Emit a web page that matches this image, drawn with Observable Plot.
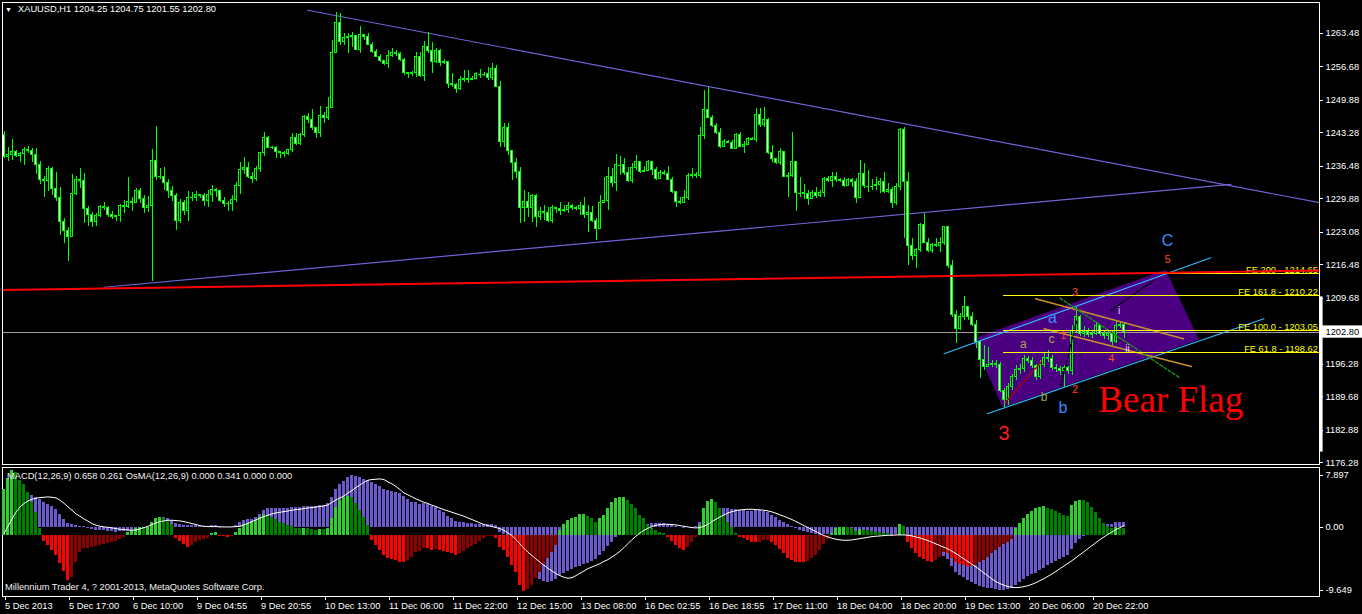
<!DOCTYPE html>
<html><head><meta charset="utf-8">
<script src="https://cdn.jsdelivr.net/npm/d3@7"></script>
<script src="https://cdn.jsdelivr.net/npm/@observablehq/plot@0.6"></script>
<style>
html,body{margin:0;padding:0;background:#000;}
#wrap{position:relative;width:1362px;height:614px;background:#000;overflow:hidden;font-family:"Liberation Sans",Arial,sans-serif;}
#wrap svg{position:absolute;left:0;}
.t{position:absolute;color:#fff;font-size:9.3px;white-space:nowrap;line-height:1;font-family:"Liberation Sans",Arial,sans-serif;}
</style></head><body><div id="wrap"></div>
<script>
// ---------------- DATA ----------------
const symbolHeader = "XAUUSD,H1  1204.25 1204.75 1201.55 1202.80";
const macdHeader = "MACD(12,26,9) 0.658 0.261  OsMA(12,26,9) 0.000 0.341 0.000 0.000";
const footer = "Millennium Trader 4, ? 2001-2013, MetaQuotes Software Corp.";
const firstOpen = 1242.8;
const close = [
1238.3,1238.7,1239.3,1238.5,1238.9,1239.9,1239.5,1238.7,1236.7,1233.8,
1233.6,1236.0,1231.8,1230.1,1225.1,1223.4,1222.2,1230.8,1233.8,1233.6,
1227.9,1226.5,1225.1,1226.3,1228.3,1228.1,1226.5,1226.1,1226.3,1228.5,
1228.3,1229.3,1229.1,1231.4,1229.9,1228.1,1228.5,1237.5,1234.4,1234.4,
1233.0,1231.4,1230.4,1225.3,1229.1,1227.5,1230.1,1230.1,1230.6,1230.4,
1229.5,1230.6,1231.6,1231.4,1229.5,1228.9,1228.9,1229.7,1232.4,1235.8,
1236.2,1234.4,1234.0,1236.0,1239.1,1242.3,1240.3,1240.3,1239.3,1239.1,
1238.9,1239.7,1242.3,1241.1,1242.8,1246.6,1245.8,1244.2,1243.2,1246.8,
1246.4,1248.4,1259.6,1265.7,1261.7,1262.5,1262.7,1262.9,1260.2,1263.1,
1262.7,1261.2,1259.8,1258.8,1257.8,1257.2,1259.0,1259.6,1259.4,1258.0,
1255.4,1255.2,1255.4,1258.8,1254.9,1260.8,1260.0,1257.6,1260.0,1257.4,
1257.6,1253.3,1253.1,1252.1,1254.1,1254.3,1254.1,1254.3,1255.2,1255.2,
1255.2,1254.5,1256.2,1252.7,1241.5,1244.2,1239.5,1237.1,1235.4,1228.1,
1229.3,1228.1,1230.4,1226.1,1227.1,1226.9,1225.3,1228.1,1227.9,1227.5,
1227.7,1228.5,1228.1,1227.9,1228.5,1226.5,1226.9,1225.3,1223.8,1229.1,
1229.5,1234.4,1233.0,1236.7,1236.7,1235.2,1233.4,1236.2,1237.3,1235.4,
1235.6,1237.3,1235.8,1234.0,1235.2,1235.0,1233.8,1231.2,1229.3,1229.1,
1230.1,1234.6,1234.8,1234.6,1242.6,1248.0,1246.4,1244.6,1243.2,1240.5,
1241.5,1241.3,1240.1,1242.8,1240.5,1240.9,1242.1,1241.9,1247.0,1244.8,
1246.0,1239.1,1237.9,1237.1,1239.3,1234.4,1234.6,1237.3,1231.0,1231.0,
1230.8,1229.9,1231.0,1230.4,1231.0,1234.0,1233.6,1234.4,1233.8,1233.6,
1232.4,1233.8,1233.2,1230.1,1235.0,1232.4,1232.4,1232.4,1232.6,1233.2,
1231.2,1231.6,1229.1,1232.2,1243.8,1233.2,1220.2,1218.2,1219.4,1224.5,
1221.0,1219.2,1220.4,1220.2,1221.0,1224.1,1216.3,1206.2,1203.5,1205.8,
1207.8,1205.8,1204.3,1200.7,1197.2,1195.6,1196.2,1196.4,1196.2,1190.9,
1188.9,1191.7,1193.6,1195.0,1195.2,1197.4,1197.0,1195.8,1193.6,1196.2,
1197.6,1197.4,1195.4,1195.2,1194.8,1195.4,1194.8,1203.1,1205.8,1202.5,
1202.9,1202.3,1202.5,1204.1,1202.5,1201.9,1202.5,1200.7,1204.1,1204.25,
1202.80];
const high = [
1243.6,1240.3,1241.9,1239.7,1239.3,1240.3,1240.5,1240.1,1240.1,1237.5,
1234.4,1236.4,1236.2,1235.2,1232.2,1225.9,1224.1,1234.8,1234.4,1236.0,
1235.0,1228.3,1227.1,1226.9,1228.5,1229.1,1228.3,1227.3,1226.5,1228.7,
1229.5,1234.2,1230.1,1232.0,1232.0,1230.6,1230.4,1239.9,1244.6,1236.0,
1236.2,1233.8,1232.4,1231.0,1229.7,1229.5,1231.4,1231.2,1231.4,1230.8,
1231.0,1231.6,1232.6,1232.0,1231.4,1230.1,1229.3,1230.6,1233.2,1237.3,
1238.3,1237.3,1235.2,1236.4,1239.3,1243.4,1242.6,1240.5,1240.5,1239.5,
1239.5,1239.9,1243.2,1243.2,1243.2,1246.8,1247.2,1248.0,1244.4,1248.6,
1247.4,1250.5,1262.1,1267.8,1267.5,1263.5,1263.5,1263.7,1262.9,1264.9,
1263.3,1263.5,1261.6,1260.2,1259.2,1258.0,1260.0,1260.4,1260.0,1259.6,
1258.4,1255.6,1255.8,1259.6,1259.6,1261.9,1263.7,1261.6,1260.4,1260.2,
1258.2,1257.6,1255.4,1253.3,1254.7,1256.0,1256.0,1254.7,1255.6,1256.2,
1255.6,1256.6,1257.4,1257.0,1253.7,1245.2,1245.2,1239.7,1238.1,1236.2,
1231.6,1231.2,1230.8,1230.8,1228.1,1228.5,1228.1,1228.5,1228.1,1229.1,
1228.5,1229.1,1228.7,1228.3,1229.1,1230.1,1228.5,1228.3,1225.9,1230.6,
1234.2,1236.2,1236.0,1238.9,1238.5,1238.1,1236.2,1237.1,1238.7,1237.1,
1236.4,1237.7,1237.3,1236.2,1235.6,1235.6,1236.4,1234.2,1231.2,1230.1,
1231.6,1235.0,1236.0,1235.2,1244.4,1251.9,1252.5,1246.8,1245.2,1244.2,
1241.9,1241.7,1241.7,1243.2,1243.4,1241.5,1242.3,1242.3,1248.2,1248.2,
1248.4,1246.2,1240.7,1238.1,1240.1,1239.5,1235.2,1243.4,1237.3,1234.2,
1232.8,1231.6,1231.6,1232.2,1231.6,1234.3,1234.4,1235.2,1235.2,1234.0,
1234.2,1234.0,1234.0,1234.0,1237.7,1237.1,1235.6,1233.8,1234.2,1234.0,
1235.2,1233.0,1232.2,1233.0,1244.2,1244.4,1235.2,1221.8,1219.8,1224.9,
1226.9,1221.8,1220.8,1221.8,1222.0,1224.3,1224.1,1217.3,1207.2,1206.6,
1210.0,1208.0,1206.8,1205.2,1201.1,1200.1,1199.7,1197.0,1197.0,1196.6,
1191.3,1192.3,1194.2,1196.0,1196.2,1198.0,1197.8,1197.6,1196.2,1197.0,
1198.6,1199.1,1198.0,1196.2,1195.8,1196.0,1195.8,1204.1,1207.8,1206.2,
1203.9,1203.5,1203.1,1204.8,1204.1,1203.1,1203.1,1203.1,1204.9,1205.0,
1204.75];
const low = [
1238.1,1237.5,1237.7,1238.3,1237.3,1236.7,1239.1,1237.3,1234.8,1232.8,
1230.1,1231.4,1230.6,1229.3,1222.4,1220.8,1217.1,1222.0,1230.6,1232.0,
1224.9,1224.3,1224.1,1224.3,1226.1,1227.5,1226.1,1225.7,1225.3,1225.1,
1226.9,1227.9,1227.3,1228.9,1228.9,1226.9,1227.1,1213.1,1233.6,1233.8,
1231.6,1229.9,1229.3,1223.4,1224.9,1226.5,1225.3,1229.3,1229.3,1229.9,
1228.3,1228.1,1229.1,1230.1,1229.1,1228.1,1227.3,1227.3,1229.1,1230.8,
1234.8,1234.0,1233.0,1233.4,1235.2,1238.5,1240.1,1239.9,1238.1,1238.1,
1238.3,1238.7,1239.3,1240.7,1240.7,1242.3,1245.2,1243.8,1242.1,1242.3,
1245.2,1245.8,1248.2,1259.6,1261.0,1261.0,1259.4,1260.6,1260.0,1259.4,
1262.1,1261.0,1259.4,1258.6,1257.6,1257.0,1256.4,1258.6,1258.8,1257.8,
1254.9,1254.3,1254.7,1254.5,1254.5,1253.7,1259.4,1255.4,1257.4,1256.8,
1257.2,1252.3,1252.5,1251.3,1251.9,1253.5,1253.3,1253.9,1254.3,1254.3,
1254.7,1253.9,1253.9,1252.5,1240.3,1240.3,1238.7,1233.6,1234.0,1224.9,
1225.1,1226.1,1225.1,1224.1,1225.5,1225.5,1225.1,1224.9,1226.9,1226.5,
1227.1,1226.9,1227.5,1227.5,1226.5,1225.9,1223.0,1225.1,1221.4,1223.8,
1228.9,1227.5,1232.2,1231.4,1234.6,1234.6,1233.2,1233.0,1235.6,1235.0,
1235.2,1235.6,1234.6,1233.6,1233.8,1234.6,1233.6,1230.9,1228.1,1228.7,
1228.9,1229.5,1234.0,1234.0,1234.0,1241.9,1246.2,1244.4,1243.0,1240.1,
1240.3,1241.1,1239.9,1240.1,1240.3,1239.1,1240.9,1241.7,1241.3,1244.4,
1244.4,1238.9,1237.3,1236.9,1236.7,1234.2,1230.1,1234.2,1227.3,1230.1,
1229.7,1228.5,1229.9,1229.9,1230.1,1230.1,1233.2,1232.2,1233.2,1233.2,
1232.2,1232.4,1232.2,1228.9,1229.9,1232.0,1231.2,1231.6,1231.6,1231.0,
1231.0,1231.0,1227.9,1228.5,1231.6,1221.8,1216.3,1217.4,1215.7,1219.0,
1220.8,1219.0,1218.8,1220.0,1219.0,1220.4,1215.7,1205.8,1200.5,1203.1,
1205.2,1205.2,1203.9,1199.5,1193.4,1195.0,1195.8,1195.6,1195.4,1190.5,
1187.5,1187.9,1190.9,1193.0,1194.2,1194.6,1196.4,1195.4,1193.0,1193.2,
1195.6,1196.6,1195.0,1194.6,1194.0,1191.5,1194.2,1194.0,1202.7,1201.9,
1201.7,1201.7,1201.5,1202.1,1201.9,1201.3,1201.1,1200.1,1200.5,1203.6,
1201.55];
const macd = [
1.2,2.3,3.2,4.0,4.6,5.2,5.2,4.9,4.5,4.22,
3.82,3.46,3.21,2.70,1.93,1.17,0.56,0.36,0.25,0.15,
0.05,-0.15,-0.36,-0.46,-0.51,-0.51,-0.61,-0.71,-0.76,-0.66,
-0.66,-0.61,-0.51,-0.36,-0.25,-0.36,-0.36,0.66,1.27,1.42,
1.42,1.32,1.07,0.56,0.41,0.31,0.25,0.25,0.20,0.15,
0.10,0.15,0.20,0.20,0.10,0.00,-0.05,0.00,0.25,0.66,
1.07,1.17,1.17,1.42,1.93,2.60,2.80,2.85,2.85,2.90,
2.90,2.90,3.00,3.00,3.05,3.21,3.21,3.16,3.10,3.31,
3.36,3.61,4.48,5.75,6.51,7.02,7.60,7.897,7.70,7.55,
7.28,7.12,6.87,6.51,6.16,5.75,5.65,5.50,5.34,5.14,
4.63,4.22,3.82,3.82,3.46,3.61,3.46,3.10,2.95,2.60,
2.29,1.68,1.27,0.87,0.76,0.66,0.56,0.51,0.46,0.46,
0.46,0.41,0.46,0.25,-0.76,-1.12,-1.88,-2.80,-3.51,-4.94,
-5.70,-6.36,-6.97,-7.58,-7.99,-8.24,-8.40,-8.30,-8.00,-7.30,
-7.00,-6.70,-6.46,-6.21,-5.95,-5.75,-5.55,-5.19,-4.94,-4.33,
-3.66,-2.90,-2.29,-1.63,-1.12,-0.76,-0.56,-0.36,-0.10,0.15,
0.31,0.41,0.56,0.56,0.56,0.51,0.46,0.36,0.15,-0.05,
-0.15,-0.05,0.00,0.05,0.76,1.68,2.19,2.44,2.54,2.80,
2.85,2.80,2.70,2.65,2.60,2.49,2.44,2.44,2.54,2.49,
2.44,2.19,1.78,1.42,1.07,0.66,0.36,0.15,-0.15,-0.46,
-0.66,-0.87,-1.02,-1.17,-1.27,-1.17,-1.12,-0.97,-0.87,-0.87,
-0.87,-0.87,-0.92,-1.02,-0.87,-0.92,-0.97,-1.02,-1.07,-1.12,
-1.17,-1.17,-1.27,-1.17,-0.36,-0.61,-1.63,-2.49,-3.16,-3.41,
-3.72,-4.02,-4.22,-4.43,-4.53,-4.43,-4.94,-5.95,-6.87,-7.38,
-7.74,-8.09,-8.40,-8.75,-9.01,-9.26,-9.31,-9.41,-9.52,-9.60,
-9.649,-9.55,-9.31,-8.91,-8.50,-7.99,-7.58,-7.28,-7.07,-6.67,
-6.26,-5.85,-5.55,-5.24,-4.94,-4.63,-4.33,-3.41,-2.49,-1.88,
-1.37,-0.87,-0.46,-0.05,0.15,0.36,0.41,0.46,0.66,0.71,
0.658];
const signal = [
-0.97,0.15,1.27,2.29,3.10,3.61,4.02,4.27,4.43,4.53,
4.58,4.63,4.58,4.48,4.12,3.66,3.10,2.60,2.04,1.68,
1.27,0.92,0.56,0.31,0.15,0.05,0.00,-0.10,-0.20,-0.31,
-0.36,-0.41,-0.46,-0.41,-0.25,-0.05,0.15,0.41,0.66,0.87,
0.97,1.07,1.07,1.02,0.97,0.87,0.71,0.56,0.41,0.25,
0.15,0.10,0.10,0.10,0.05,0.05,0.05,0.05,0.10,0.15,
0.36,0.61,0.87,1.12,1.42,1.63,1.83,2.04,2.19,2.29,
2.39,2.49,2.60,2.70,2.75,2.85,2.95,3.00,3.10,3.16,
3.26,3.41,3.82,4.17,4.48,4.78,5.24,5.60,6.06,6.46,
6.87,7.18,7.28,7.33,7.38,7.28,6.92,6.62,6.21,5.75,
5.24,4.94,4.63,4.33,4.07,3.82,3.61,3.36,3.16,2.90,
2.70,2.49,2.29,2.09,1.88,1.68,1.42,1.17,0.92,0.66,
0.41,0.25,0.10,-0.05,-0.20,-0.46,-0.87,-1.27,-1.88,-2.54,
-3.21,-3.82,-4.33,-4.83,-5.34,-5.80,-6.26,-6.67,-7.07,-7.38,
-7.63,-7.79,-7.68,-7.38,-7.02,-6.67,-6.31,-6.06,-5.80,-5.55,
-5.19,-4.94,-4.53,-4.12,-3.66,-3.10,-2.49,-1.88,-1.37,-0.87,
-0.46,-0.15,0.10,0.31,0.41,0.46,0.46,0.41,0.36,0.25,
0.15,0.05,-0.05,-0.10,-0.05,0.15,0.46,0.87,1.22,1.58,
1.88,2.19,2.39,2.54,2.65,2.70,2.75,2.75,2.70,2.65,
2.60,2.49,2.34,2.14,1.88,1.68,1.42,1.17,0.87,0.56,
0.25,-0.05,-0.36,-0.66,-0.97,-1.27,-1.48,-1.68,-1.83,-1.93,
-1.98,-1.98,-1.93,-1.83,-1.73,-1.63,-1.53,-1.42,-1.37,-1.32,
-1.27,-1.22,-1.22,-1.17,-1.17,-1.17,-1.22,-1.32,-1.48,-1.63,
-1.83,-2.04,-2.29,-2.54,-2.80,-3.05,-3.31,-3.66,-4.02,-4.43,
-4.83,-5.24,-5.65,-6.06,-6.51,-6.97,-7.43,-7.89,-8.30,-8.60,
-8.85,-9.06,-9.16,-9.21,-9.16,-9.06,-8.91,-8.70,-8.45,-8.14,
-7.84,-7.48,-7.12,-6.72,-6.31,-5.90,-5.50,-5.09,-4.63,-4.17,
-3.72,-3.26,-2.80,-2.34,-1.88,-1.48,-1.07,-0.71,-0.35,-0.05,
0.261];
const osma = [
2.35,2.89,3.32,3.20,2.81,2.59,2.21,1.70,1.19,0.34,
-0.31,-0.51,-0.77,-1.02,-1.45,-1.84,-2.30,-2.13,-1.36,-0.88,
-0.68,-0.65,-0.60,-0.54,-0.51,-0.48,-0.43,-0.37,-0.31,-0.20,
-0.09,0.17,0.26,0.37,0.43,0.37,0.43,0.68,0.85,0.90,
0.88,0.77,0.54,-0.14,-0.31,-0.48,-0.60,-0.51,-0.37,-0.27,
-0.20,-0.14,0.12,0.14,-0.05,-0.07,-0.10,-0.03,0.17,0.34,
0.54,0.60,0.65,0.77,0.94,1.05,1.02,0.92,0.82,0.68,
0.60,0.51,0.44,0.37,0.34,0.37,0.34,0.29,0.26,0.31,
0.29,0.37,0.85,1.45,1.79,1.96,2.01,1.96,1.62,1.28,
0.94,0.51,-0.26,-0.51,-0.77,-1.02,-1.16,-1.22,-1.29,-1.36,
-1.36,-1.28,-1.12,-0.88,-0.82,-0.65,-0.68,-0.75,-0.71,-0.77,
-0.82,-0.88,-0.94,-1.02,-0.94,-0.82,-0.68,-0.54,-0.44,-0.31,
-0.17,-0.07,-0.03,-0.14,-0.60,-0.77,-1.11,-1.53,-1.87,-2.55,
-2.86,-2.76,-2.55,-2.21,-1.87,-1.50,-1.19,-0.88,-0.51,0.26,
0.54,0.77,0.85,0.94,1.05,1.05,0.99,0.88,0.68,0.85,
1.02,1.36,1.70,1.87,1.92,1.94,1.79,1.56,1.36,1.02,
0.85,0.51,0.34,0.26,0.17,0.09,-0.09,-0.31,-0.51,-0.68,
-0.77,-0.60,-0.34,-0.09,0.51,1.36,1.73,1.82,1.67,1.36,
1.02,0.68,0.43,0.12,-0.09,-0.17,-0.27,-0.34,-0.37,-0.34,
-0.27,-0.26,-0.34,-0.51,-0.71,-0.94,-1.16,-1.28,-1.36,-1.39,
-1.39,-1.33,-1.19,-1.02,-0.77,-0.48,-0.20,0.12,0.34,0.41,
0.43,0.41,0.34,0.20,0.31,0.27,0.24,0.20,0.17,0.14,
0.10,0.09,-0.07,-0.03,0.54,0.46,-0.37,-0.68,-0.94,-1.11,
-1.22,-1.33,-1.36,-1.28,-1.11,-0.88,-0.94,-1.19,-1.39,-1.50,
-1.53,-1.56,-1.58,-1.53,-1.39,-1.28,-1.11,-0.94,-0.77,-0.60,
-0.48,-0.34,-0.20,0.37,0.60,0.85,1.05,1.22,1.36,1.43,
1.46,1.39,1.33,1.22,1.11,1.02,0.99,1.53,1.73,1.80,
1.79,1.67,1.45,1.19,0.85,0.60,0.46,0.37,0.41,0.37,
0.341];
const priceTicks = [1263.48,1256.68,1249.88,1243.28,1236.48,1229.88,1223.08,1216.48,1209.68,1196.28,1189.68,1182.88,1176.28];
const currentPrice = 1202.80;
const macdTicks = [7.897, 0, -9.649];
const macdTickLabels = ["7.897", "0.00", "-9.649"];
const dateTickIdx = [0,16,32,48,64,80,96,112,128,144,160,176,192,208,224,240,256,272];
const dateLabels = ["5 Dec 2013","5 Dec 17:00","6 Dec 10:00","9 Dec 04:55","9 Dec 20:55","10 Dec 13:00","11 Dec 06:00","11 Dec 22:00","12 Dec 15:00","13 Dec 08:00","16 Dec 02:55","16 Dec 18:55","17 Dec 11:00","18 Dec 04:00","18 Dec 20:00","19 Dec 13:00","20 Dec 06:00","20 Dec 22:00"];
// drawn objects (bar index, price)
const descIdx = [75.9, 328.875], descPrice = [1268.2, 1229.1];
const ascIdx = [25, 306.7], ascPrice = [1211.9, 1232.8];
const redIdx = [-0.375, 328.875], redPrice = [1211.35, 1215.31];
const flagIdx = [242.1, 290.4, 298.75, 249.6], flagPrice = [1201.4, 1215.45, 1201.23, 1187.5];
const chanUpIdx = [235, 301.7], chanUpPrice = [1198.4, 1217.9];
const chanLoIdx = [245.85, 315], chanLoPrice = [1186.2, 1205.5];
const orangeAIdx = [257.9, 294.85], orangeAPrice = [1209.56, 1201.43];
const orangeBIdx = [260, 296.85], orangeBPrice = [1203.46, 1195.8];
const greenIdx = [264, 293.75], greenPrice = [1209.7, 1193.6];
const dotRedIdx = [250.4, 259.6], dotRedPrice = [1188.55, 1197.0];
const dotBlkAIdx = [264.2, 268.2], dotBlkAPrice = [1191.9, 1205.2];
const dotBlkBIdx = [276.7, 287.5], dotBlkBPrice = [1207.2, 1213.3];
const fibLevels = [1214.65, 1210.22, 1203.05, 1198.62];
const fibLabels = ["FE 200 - 1214.65","FE 161.8 - 1210.22","FE 100.0 - 1203.05","FE 61.8 - 1198.62"];
const fibStartIdx = [279.85, 249.85, 249.85, 249.85];
const waveText  = ["C","5","3","a","i","a","c","1","ii","4","2","b","b","3"];
const waveIdx   = [290.9,290.9,267.75,262.1,278.75,254.85,261.9,264.85,280.85,276.85,267.75,260,264.75,250];
const wavePrice = [1221.41,1217.5,1210.9,1205.7,1207.04,1200.27,1201.43,1202.1,1199.4,1197.5,1191.06,1189.56,1187.4,1182.12];
const waveDegree= ["major","minor","minor","major","sub","micro","micro","minor","sub","minor","minor","micro","major","primary"];
const noteText = ["Bear Flag"], noteIdx = [291.7], notePrice = [1188.9];

// ---------------- BUILD ----------------
const FONT = "Liberation Sans, Arial, sans-serif";
const xDom = [-0.375, 328.875];
const baseStyle = {background:"none", maxWidth:"none", overflow:"visible", color:"#fff", fontFamily:FONT, fontSize:"9.3px"};
const bars = close.map((c,i)=>({i, o: i ? close[i-1] : firstOpen, h: high[i], l: low[i], c}));
const dojis = bars.filter(d => Math.abs(d.o - d.c) < 0.15);
const pts = (ix, pr) => ix.map((x,k)=>({x, y: pr[k]}));
const flagPts = pts(flagIdx, flagPrice); flagPts.push(flagPts[0]);
const fib = fibLevels.map((p,k)=>({p, label: fibLabels[k], x1: fibStartIdx[k]}));
const waves = waveText.map((t,k)=>({t, x: waveIdx[k], y: wavePrice[k], g: waveDegree[k]}));
const waveStyle = {
  primary:{fill:"#ff1a1a", size:20},
  major:{fill:"#3a8cff", size:16},
  minor:{fill:"#ff4a1a", size:11},
  micro:{fill:"#a8a850", size:12},
  sub:{fill:"#d8d8f4", size:10}
};
const waveMarks = Object.keys(waveStyle).map(g => Plot.text(waves.filter(d=>d.g===g), {x:"x", y:"y", text:"t", fill:waveStyle[g].fill, fontSize:waveStyle[g].size, fontFamily:FONT, lineAnchor:"middle", textAnchor:"middle"}));
const seg = (ix, pr, o) => Plot.line(pts(ix, pr), {x:"x", y:"y", ...o});

const main = Plot.plot({
  width:1362, height:466, marginTop:2, marginBottom:2, marginLeft:2, marginRight:43,
  style: baseStyle,
  x:{domain:xDom, axis:null},
  y:{domain:[1175.88, 1269.78], axis:null},
  marks:[
    Plot.line(flagPts, {x:"x", y:"y", fill:"#4b0082", stroke:"none"}),
    Plot.ruleY([currentPrice], {stroke:"#a0a0a0", shapeRendering:"crispEdges"}),
    seg(descIdx, descPrice, {stroke:"#6f63d8", strokeWidth:1.2}),
    seg(ascIdx, ascPrice, {stroke:"#6f63d8", strokeWidth:1.2}),
    Plot.ruleX(bars, {x:"i", y1:"l", y2:"h", stroke:"#00ff00", shapeRendering:"crispEdges"}),
    Plot.rect(bars, {x1:d=>d.i-0.25, x2:d=>d.i+0.25, y1:"o", y2:"c", fill:d=>d.c<d.o?"#ffffff":"#000000", stroke:"#00ff00", shapeRendering:"crispEdges"}),
    Plot.ruleY(dojis, {y:"c", x1:d=>d.i-0.375, x2:d=>d.i+0.375, stroke:"#00ff00", shapeRendering:"crispEdges"}),
    seg(chanUpIdx, chanUpPrice, {stroke:"#33bbff", strokeWidth:1.2}),
    seg(chanLoIdx, chanLoPrice, {stroke:"#33bbff", strokeWidth:1.2}),
    seg(orangeAIdx, orangeAPrice, {stroke:"#c8902c"}),
    seg(orangeBIdx, orangeBPrice, {stroke:"#c8902c"}),
    seg(greenIdx, greenPrice, {stroke:"#1a8a1a", strokeDasharray:"3,2"}),
    seg(dotRedIdx, dotRedPrice, {stroke:"#b00000", strokeDasharray:"2,2"}),
    seg(dotBlkAIdx, dotBlkAPrice, {stroke:"#000", strokeDasharray:"2,2"}),
    seg(dotBlkBIdx, dotBlkBPrice, {stroke:"#000", strokeDasharray:"2,2"}),
    Plot.ruleY(fib, {y:"p", x1:"x1", x2:xDom[1], stroke:"#ffff00", shapeRendering:"crispEdges"}),
    Plot.text(fib, {x:xDom[1]-0.4, y:"p", text:"label", fill:"#ffff00", textAnchor:"end", lineAnchor:"bottom", dy:-1, fontFamily:FONT, fontSize:9.3}),
    seg(redIdx, redPrice, {stroke:"#ff0000", strokeWidth:2}),
    ...waveMarks,
    Plot.text(noteText.map((t,k)=>({t, x:noteIdx[k], y:notePrice[k]})), {x:"x", y:"y", text:"t", fill:"#ff0000", fontSize:37, fontFamily:"Liberation Serif, Times New Roman, serif", lineAnchor:"middle", textAnchor:"middle"}),
    Plot.frame({stroke:"#ffffff", shapeRendering:"crispEdges"}),
    Plot.axisY(priceTicks, {anchor:"right", tickFormat:d=>d.toFixed(2), tickSize:3, tickPadding:3, stroke:"#fff", fill:"#fff", label:null, fontSize:9.3, shapeRendering:"crispEdges"}),
    Plot.ruleX([xDom[1]+0.4], {y1:1209.95, y2:1178.4, stroke:"#ffffff", strokeWidth:3}),
    Plot.rect([currentPrice], {x1:xDom[1]+0.1, x2:xDom[1]+11, y1:d=>d-1.25, y2:d=>d+1.25, fill:"#ffffff"}),
    Plot.text([currentPrice], {x:xDom[1]+1.5, y:d=>d, text:d=>d.toFixed(2), fill:"#000000", textAnchor:"start", fontSize:9.3, fontFamily:FONT})
  ]
});
main.style.top = "0px";

const macdDom = [-10.564, 9.118];
const osmaDom = [-3.112, 3.469];
const subOpts = {width:1362, height:148, marginTop:1, marginBottom:18, marginLeft:2, marginRight:43, style: baseStyle, x:{domain:xDom, axis:null}};
const macdData = macd.map((m,i)=>({i, m, s: signal[i]}));
const osData = osma.map((v,i)=>({i, v, col: v>=0 ? ((i===0 || v>=osma[i-1]) ? "#32cd32" : "#008000") : ((i===0 || v<=osma[i-1]) ? "#ff0000" : "#8b0000")}));

const layerA = Plot.plot({...subOpts,
  y:{domain:macdDom, axis:null},
  marks:[
    Plot.rect(macdData, {x1:d=>d.i-0.375, x2:d=>d.i+0.375, y1:0, y2:"m", fill:"#6a5acd", shapeRendering:"crispEdges"}),
    Plot.frame({stroke:"#ffffff", shapeRendering:"crispEdges"}),
    Plot.axisY(macdTicks, {anchor:"right", tickFormat:d=>macdTickLabels[macdTicks.indexOf(d)], tickSize:3, tickPadding:3, stroke:"#fff", fill:"#fff", label:null, fontSize:9.3, shapeRendering:"crispEdges"}),
    Plot.axisX(dateTickIdx, {anchor:"bottom", tickFormat:d=>dateLabels[dateTickIdx.indexOf(d)], tickSize:4, tickPadding:2, textAnchor:"start", dx:1, stroke:"#fff", fill:"#fff", label:null, fontSize:9.3, shapeRendering:"crispEdges"})
  ]
});
const layerB = Plot.plot({...subOpts,
  y:{domain:osmaDom, axis:null},
  color:{type:"identity"},
  marks:[
    Plot.rect(osData, {x1:d=>d.i-0.375, x2:d=>d.i+0.375, y1:0, y2:"v", fill:"col", shapeRendering:"crispEdges"})
  ]
});
const layerC = Plot.plot({...subOpts,
  y:{domain:macdDom, axis:null},
  marks:[
    Plot.line(macdData, {x:"i", y:"s", stroke:"#ffffff", strokeWidth:1})
  ]
});
for (const l of [layerA, layerB, layerC]) l.style.top = "466px";

const wrap = document.getElementById("wrap");
wrap.append(main, layerA, layerB, layerC);
function addText(txt, left, top, extra){
  const d = document.createElement("div");
  d.className = "t"; d.textContent = txt;
  d.style.left = left + "px"; d.style.top = top + "px";
  if (extra) Object.assign(d.style, extra);
  wrap.append(d);
}
addText("\u25BC", 5, 6, {fontSize:"7px"});
addText(symbolHeader, 18, 5);
addText(macdHeader, 7, 472, {color:"#f0f0f0"});
addText(footer, 5, 583, {color:"#f0f0f0"});
</script></body></html>
